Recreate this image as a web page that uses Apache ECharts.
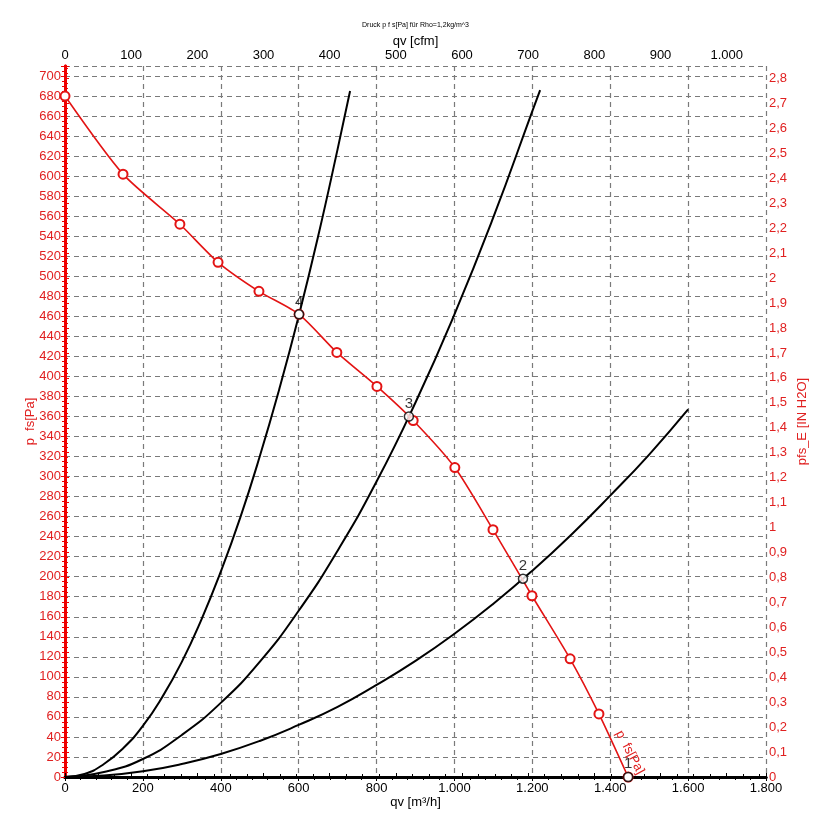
<!DOCTYPE html>
<html>
<head>
<meta charset="utf-8">
<script src="https://cdn.jsdelivr.net/npm/echarts@6/dist/echarts.min.js"></script>
<style>html,body{margin:0;padding:0;background:#fff}#c{width:831px;height:831px}</style>
</head>
<body>
<div id="c"></div>
<script>
// Fan curve p_fs [Pa] vs qv [m³/h]
const fanQ = [0, 149, 295, 393, 498, 601, 698, 801, 894, 1001, 1099, 1199, 1297, 1371, 1446];
const fanP = [680, 602, 552, 514, 485, 462, 424, 390, 356, 309, 247, 181, 118, 63, 0];
// System curves
const sys4Q = [0, 50, 100, 150, 200, 250, 300, 350, 400, 450, 500, 550, 600, 650, 700, 732];
const sys4P = [0, 3, 13, 29, 51, 80, 115, 157, 205, 259, 320, 387, 460, 540, 627, 685];
const sys3Q = [0, 100, 200, 300, 400, 500, 600, 700, 800, 900, 1000, 1100, 1200, 1220];
const sys3P = [0, 5, 18, 42, 74, 115, 166, 226, 295, 374, 462, 559, 665, 686];
const sys2Q = [0, 100, 200, 300, 400, 500, 600, 700, 800, 900, 1000, 1100, 1200, 1300, 1400, 1500, 1600];
const sys2P = [0, 1.4, 5.7, 13, 23, 36, 52, 70, 92, 116, 143, 173, 206, 242, 281, 322, 367];
// Operating points
const opNames = ['1', '2', '3', '4'];
const opQ = [1446, 1176, 883, 601];
const opP = [0, 198, 360, 462];

const PA_PER_INH2O = 249.089;
const M3H_PER_CFM = 1.699;
const Q_MAX = 1800, P_MAX = 710;

const FONT = 'Liberation Sans, Arial, sans-serif';
const RED = '#ee0000', RED_TXT = '#e02020';
const thou = v => { v = Math.round(v); return v >= 1000 ? Math.floor(v / 1000) + '.' + String(v % 1000).padStart(3, '0') : String(v); };
const dec = v => String(Math.round(v * 10) / 10).replace('.', ',');
const zip = (a, b) => a.map((x, i) => [x, b[i]]);

const chart = echarts.init(document.getElementById('c'), null, {renderer: 'canvas'});
const fanData = zip(fanQ, fanP).map((d, i, arr) => i === arr.length - 1 ? {
  value: d,
  label: {show: true, formatter: 'p  fs[Pa]', rotate: -62, position: 'inside', offset: [-21, -13],
          color: RED_TXT, fontSize: 13, fontFamily: FONT, align: 'center', verticalAlign: 'middle'}
} : d);
const sysLine = (q, p) => ({
  type: 'line', data: zip(q, p), smooth: true, showSymbol: false, symbol: 'none',
  lineStyle: {color: '#000', width: 2}, z: 3, silent: true
});
chart.setOption({
  animation: false,
  title: {text: 'Druck p f s[Pa] für Rho=1,2kg/m^3', left: 'center', top: 17,
          textStyle: {fontSize: 7, fontWeight: 'normal', color: '#000', fontFamily: FONT}},
  grid: {left: 65, right: 65, top: 66, bottom: 54},
  xAxis: [{
    type: 'value', position: 'bottom', min: 0, max: Q_MAX, interval: 200,
    name: 'qv [m³/h]', nameLocation: 'middle', nameGap: 19, nameMoveOverlap: false,
    nameTextStyle: {color: '#000', fontSize: 13, fontFamily: FONT},
    axisLine: {lineStyle: {color: '#000', width: 3}},
    axisTick: {length: 4, lineStyle: {color: '#000'}},
    minorTick: {show: true, splitNumber: 5, length: 3, lineStyle: {color: '#000'}},
    axisLabel: {color: '#000', fontSize: 13, fontFamily: FONT, margin: 5, formatter: thou},
    splitLine: {show: true, lineStyle: {color: '#7a7a7a', type: [5, 4], width: 1.2}}
  }, {
    type: 'value', position: 'top', min: 0, max: Q_MAX / M3H_PER_CFM, interval: 100,
    name: 'qv [cfm]', nameLocation: 'middle', nameGap: 18, nameMoveOverlap: false,
    nameTextStyle: {color: '#000', fontSize: 13, fontFamily: FONT},
    axisLine: {lineStyle: {color: '#000', width: 3}},
    axisTick: {length: 4, lineStyle: {color: '#000'}},
    minorTick: {show: true, splitNumber: 4, length: 3, lineStyle: {color: '#000'}},
    axisLabel: {color: '#000', fontSize: 13, fontFamily: FONT, margin: 4, formatter: thou, showMaxLabel: false},
    splitLine: {show: false}
  }],
  yAxis: [{
    type: 'value', position: 'left', min: 0, max: P_MAX, interval: 20,
    name: 'p  fs[Pa]', nameLocation: 'middle', nameGap: 28, nameRotate: 90, nameMoveOverlap: false,
    nameTextStyle: {color: RED_TXT, fontSize: 13, fontFamily: FONT},
    axisLine: {lineStyle: {color: RED, width: 3}},
    axisTick: {length: 4, lineStyle: {color: RED}},
    minorTick: {show: true, splitNumber: 4, length: 3, lineStyle: {color: RED}},
    axisLabel: {color: RED_TXT, fontSize: 13, fontFamily: FONT, margin: 4, showMaxLabel: false},
    splitLine: {show: true, lineStyle: {color: '#7a7a7a', type: [5, 4], width: 1.2}}
  }, {
    type: 'value', position: 'right', min: 0, max: P_MAX / PA_PER_INH2O, interval: 0.1,
    name: 'pfs_E [IN H2O]', nameLocation: 'middle', nameGap: 30, nameRotate: 90, nameMoveOverlap: false,
    nameTextStyle: {color: RED_TXT, fontSize: 13, fontFamily: FONT},
    axisLine: {lineStyle: {color: RED, width: 3}},
    axisTick: {length: 4, lineStyle: {color: RED}},
    minorTick: {show: true, splitNumber: 5, length: 3, lineStyle: {color: RED}},
    axisLabel: {color: RED_TXT, fontSize: 13, fontFamily: FONT, margin: 3, formatter: dec, showMaxLabel: false},
    splitLine: {show: false}
  }],
  series: [
    sysLine(sys4Q, sys4P),
    sysLine(sys3Q, sys3P),
    sysLine(sys2Q, sys2P),
    {
      type: 'line', data: fanData, smooth: 0.25, symbol: 'emptyCircle', symbolSize: 9, showAllSymbol: true,
      lineStyle: {color: '#e31414', width: 1.6}, itemStyle: {color: '#e31414', borderWidth: 1.5}, z: 4
    },
    {
      type: 'scatter', data: opNames.map((n, i) => ({name: n, value: [opQ[i], opP[i]]})),
      symbol: 'circle', symbolSize: 9,
      itemStyle: {color: '#fff', borderColor: '#000', borderWidth: 1.5}, z: 6,
      label: {show: true, position: 'top', distance: 0, formatter: p => p.name, color: '#000', fontSize: 15, fontFamily: FONT}
    }
  ]
});
</script>
</body>
</html>
